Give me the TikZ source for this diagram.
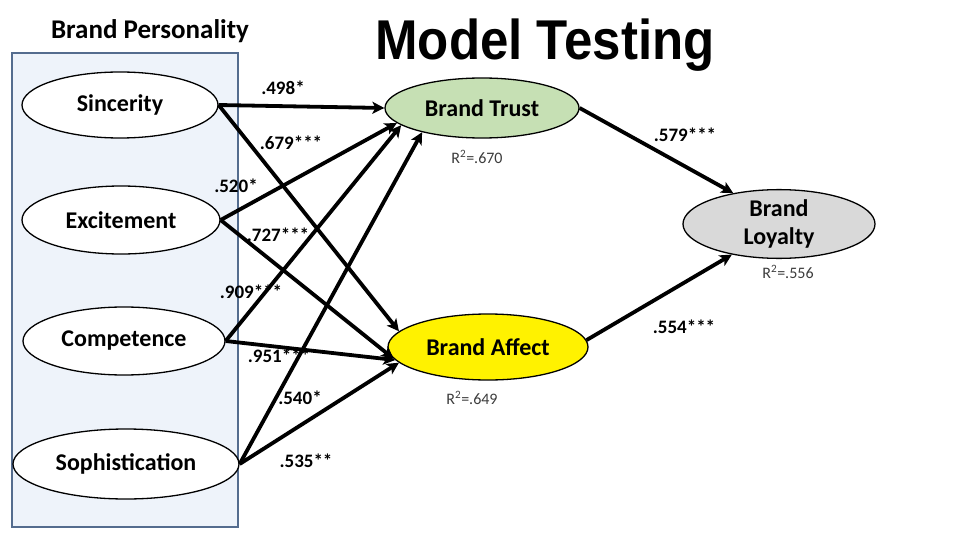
\documentclass[tikz,border=0pt]{standalone}
\usepackage{fontspec}
\setmainfont{Carlito}
\newfontfamily\titlefont{Liberation Sans}
\usetikzlibrary{shapes.geometric,arrows.meta}
\definecolor{boxfill}{RGB}{238,243,250}
\definecolor{boxline}{RGB}{84,108,142}
\definecolor{trustfill}{RGB}{198,224,180}
\definecolor{lofill}{RGB}{217,217,217}
\definecolor{rtext}{RGB}{60,60,60}
\begin{document}
\begin{tikzpicture}[x=1pt,y=-1pt,
  ell/.style={ellipse,draw=black,line width=1.3pt,inner sep=0pt,align=center,
     font=\fontsize{24}{27}\selectfont\bfseries},
  pell/.style={ell,fill=white},
  arr/.style={line width=3.8pt,-{Stealth[length=12pt,width=12pt,inset=3pt]}},
  coef/.style={font=\fontsize{19}{20}\selectfont\bfseries,inner sep=0pt},
  rsq/.style={font=\fontsize{16}{18}\selectfont,text=rtext,inner sep=0pt}]
\useasboundingbox (0,0) rectangle (960,540);
\fill[white] (0,0) rectangle (960,540);
% box
\draw[fill=boxfill,draw=boxline,line width=1.8pt] (12,53) rectangle (238,527);
% titles
\node[font=\titlefont\fontsize{51}{52}\selectfont\bfseries,inner sep=0pt] (title) at (545,45) {\scalebox{1}[1.1]{Model Testing}};
\node[font=\fontsize{27}{29}\selectfont\bfseries,inner sep=0pt] (bp) at (150,31) {Brand Personality};
% left nodes
\node[pell,minimum width=196pt,minimum height=66pt] (sin) at (120,105) {Sincerity};
\node[pell,minimum width=198pt,minimum height=68pt] (exc) at (121,220) {Excitement};
\node[pell,minimum width=202pt,minimum height=68pt] (com) at (124,341) {Competence};
\node[pell,minimum width=226pt,minimum height=70pt] (sop) at (126,464) {Sophistication};
% right nodes
\node[ell,fill=trustfill,minimum width=194pt,minimum height=60pt] (trust) at (482,108) {Brand Trust};
\node[ell,fill=yellow,minimum width=200pt,minimum height=66pt] (aff) at (488,347) {Brand Affect};
\node[ell,fill=lofill,minimum width=192pt,minimum height=67pt] (loy) at (779,224) {Brand\\[1pt]Loyalty};
% R squared
\node[rsq] (r1) at (477,157) {R\textsuperscript{2}=.670};
\node[rsq] (r2) at (472,398) {R\textsuperscript{2}=.649};
\node[rsq] (r3) at (788,272) {R\textsuperscript{2}=.556};
% arrows
\draw[arr] (sin.east) -- (trust.west);
\draw[arr] (sin.east) -- (aff.170);
\draw[arr] (exc.east) -- (trust.190);
\draw[arr] (exc.east) -- (aff.187);
\draw[arr] (com.east) -- (trust.192.5);
\draw[arr] (com.east) -- (aff.188);
\draw[arr] (sop.east) -- (trust.202.5);
\draw[arr] (sop.east) -- (aff.190);
\draw[arr] (trust.east) -- (loy.146.6);
\draw[arr] (aff.4) -- (loy.213.4);
% coefficients
\node[coef] (c1) at (283,88) {.498*};
\node[coef] (c2) at (291,143) {.679***};
\node[coef] (c3) at (236,186) {.520*};
\node[coef] (c4) at (278,235) {.727***};
\node[coef] (c5) at (251,292) {.909***};
\node[coef] (c6) at (279,356) {.951***};
\node[coef] (c7) at (300,398) {.540*};
\node[coef] (c8) at (306,461) {.535**};
\node[coef] (c9) at (685,135) {.579***};
\node[coef] (c10) at (684,327) {.554***};
\end{tikzpicture}
\end{document}
